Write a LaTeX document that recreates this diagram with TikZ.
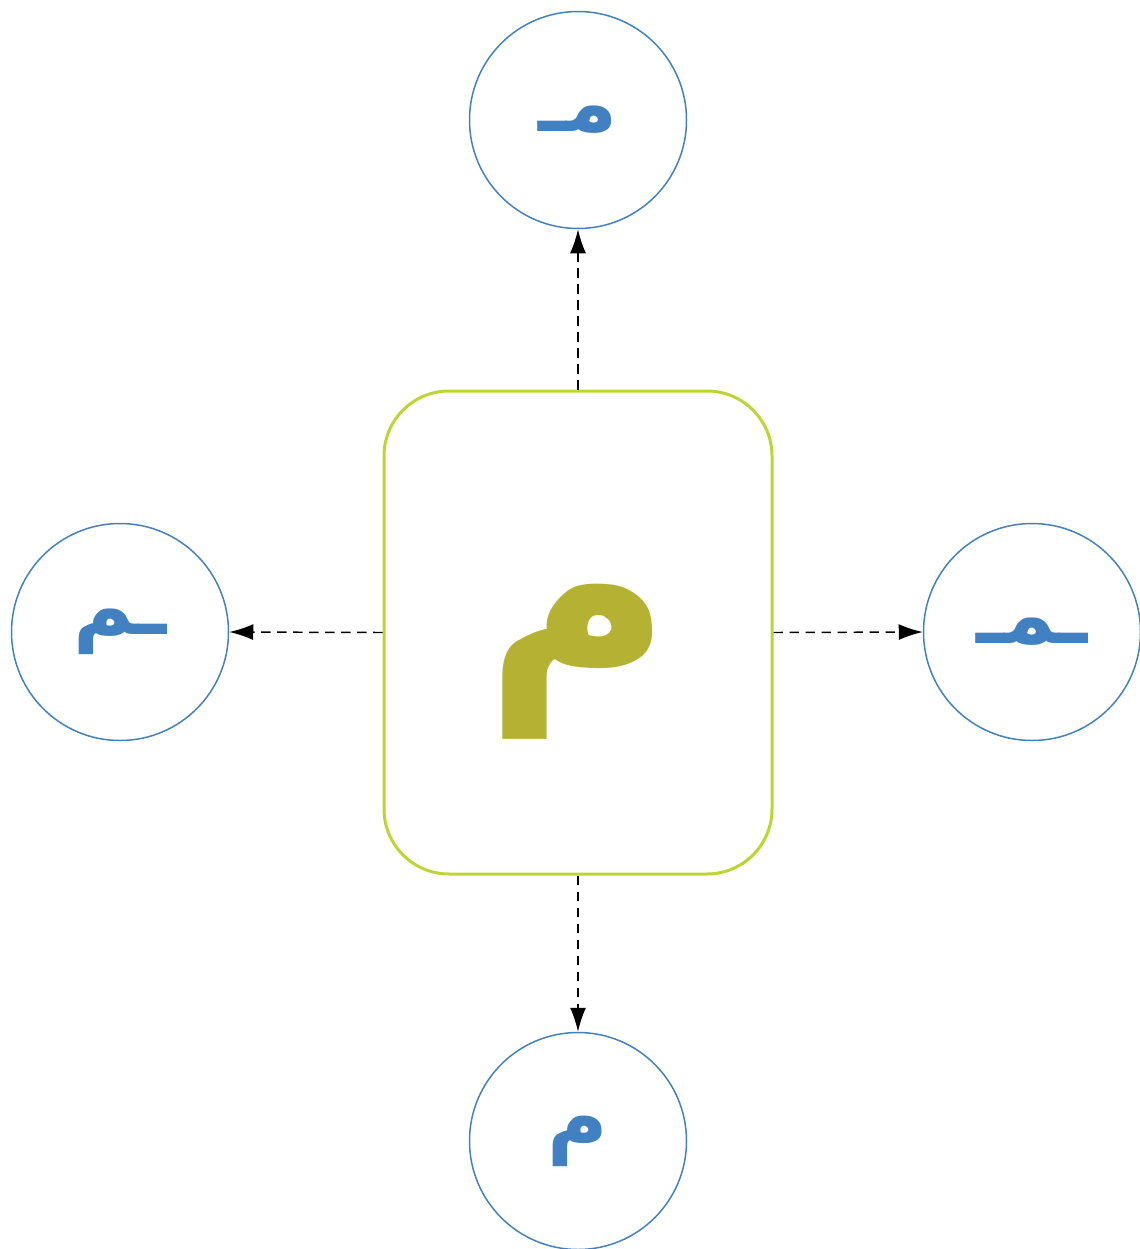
\documentclass[tikz,border=0pt]{standalone}
\usepackage{fontspec}
\usetikzlibrary{arrows.meta}
\TeXXeTstate=1
\newfontfamily\arabicfont[Script=Arabic]{DejaVu Sans}
\definecolor{cblue}{HTML}{4281C1}
\definecolor{cgreen}{HTML}{BDD532}
\definecolor{colive}{HTML}{B5B233}
\begin{document}
\begin{tikzpicture}[x=0.75pt,y=-0.75pt,
  formcircle/.style={circle,draw=cblue,line width=1.5pt*0.75,minimum size=217*0.75pt,inner sep=0pt,
    text=cblue,font=\arabicfont\bfseries\fontsize{62}{62}\selectfont},
  mainbox/.style={rounded corners=65*0.75pt,draw=cgreen,line width=2.25pt,minimum width=388*0.75pt,minimum height=483*0.75pt,inner sep=0pt},
  link/.style={draw=black,line width=1.1pt,dash pattern=on 7pt off 5pt,-{Latex[length=18pt,width=12pt]}}]
\useasboundingbox (0,0) rectangle (1139,1249);
\node[mainbox] (c) at (578,632.5) {};
\node[text=colive,font=\arabicfont\bfseries\fontsize{190}{190}\selectfont] (ct) at (578,662) {\beginR م\endR};
\node[formcircle] (t) at (578,120) {\beginR مـ\endR};
\node[formcircle] (l) at (120,632) {\beginR ـم\endR};
\node[formcircle] (r) at (1032,632) {\beginR ـمـ\endR};
\node[formcircle] (b) at (578,1141) {\beginR م\endR};
\draw[link] (c.north) -- (t.south);
\draw[link] (c.west) -- (l.east);
\draw[link] (c.east) -- (r.west);
\draw[link] (c.south) -- (b.north);
\end{tikzpicture}
\end{document}
